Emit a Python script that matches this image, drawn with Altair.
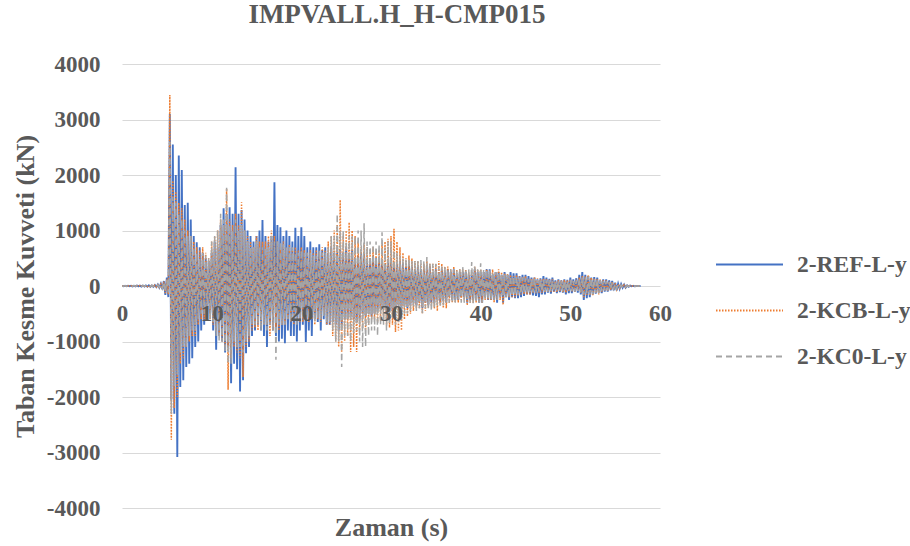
import altair as alt
import pandas as pd

# Base shear time histories (kN), six samples per second of record.
SAMPLES_PER_S = 6

series_names = ["2-REF-L-y", "2-KCB-L-y", "2-KC0-L-y"]
series_colors = ["#4472C4", "#ED7D31", "#A5A5A5"]
series_dashes = [[1, 0], [1.5, 1.5], [6, 4]]
series_widths = [1.9, 1.5, 1.5]

x_ticks = [0, 10, 20, 30, 40, 50, 60]
y_ticks = [-4000, -3000, -2000, -1000, 0, 1000, 2000, 3000, 4000]

# one row per second of record
ref_rows = [
    [0, -5, 4, -6, 5, -4], [6, -8, 5, -7, 8, -6], [7, -10, 8, -9, 10, -12],
    [12, -15, 10, -14, 18, -20], [25, -30, 40, -60, 90, -160],
    [150, -200, 3100, -2050, 2550, -2300], [2000, -3080, 2350, -1820, 2090, -1700],
    [1460, -1460, 1500, -1400, 1200, -1300], [900, -1100, 790, -1000, 700, -800],
    [600, -700, 500, -600, 450, -500], [600, -800, 800, -1150, 700, -900],
    [1100, -1000, 1400, -1200, 1300, -1100], [1420, -1750, 1300, -1400, 2140, -1500],
    [1300, -1900, 1370, -1700, 1200, -1210], [1000, -1100, 900, -900, 800, -800],
    [900, -700, 1000, -800, 1190, -900], [900, -1100, 800, -700, 900, -800],
    [1870, -900, 1100, -1000, 1060, -950], [900, -1030, 1000, -800, 900, -900],
    [800, -900, 1050, -1000, 900, -800], [1060, -700, 900, -1010, 700, -800],
    [800, -900, 700, -600, 700, -650], [750, -800, 650, -600, 700, -700],
    [600, -700, 700, -650, 600, -700], [600, -800, 650, -700, 600, -600],
    [700, -600, 600, -550, 650, -600], [500, -650, 550, -600, 600, -500],
    [600, -550, 450, -500, 500, -550], [550, -500, 500, -450, 450, -400],
    [450, -400, 400, -500, 450, -450], [500, -450, 350, -400, 400, -350],
    [450, -400, 400, -350, 350, -400], [400, -350, 350, -300, 300, -350],
    [350, -300, 300, -400, 300, -300], [300, -350, 350, -300, 250, -300],
    [300, -250, 250, -300, 300, -250], [250, -300, 300, -200, 250, -250],
    [300, -250, 200, -250, 250, -200], [250, -200, 250, -300, 200, -250],
    [200, -250, 300, -250, 250, -300], [250, -300, 250, -200, 300, -250],
    [300, -250, 200, -250, 250, -300], [250, -200, 200, -300, 250, -200],
    [200, -250, 250, -200, 230, -220], [230, -220, 180, -200, 200, -180],
    [200, -150, 180, -150, 150, -170], [150, -180, 120, -200, 140, -150],
    [180, -150, 150, -120, 130, -140], [150, -100, 100, -130, 120, -110],
    [100, -120, 120, -150, 110, -130], [150, -130, 120, -100, 140, -120],
    [200, -150, 250, -250, 200, -220], [180, -200, 150, -150, 160, -140],
    [150, -120, 100, -130, 120, -100], [120, -100, 100, -80, 90, -80],
    [60, -80, 40, -50, 35, -30], [25, -30, 10, -15, 8, -6], [3, -5, 0, 0, 0, 0],
]

kcb_rows = [
    [0, -4, 3, -5, 4, -3], [5, -6, 4, -6, 6, -5], [6, -8, 7, -8, 9, -10],
    [10, -12, 9, -13, 15, -18], [20, -25, 35, -50, 80, -130],
    [120, -150, 3440, -2770, 1900, -2200], [1700, -2000, 1500, -1400, 1400, -1300],
    [1200, -1100, 1000, -1000, 900, -900], [800, -900, 700, -700, 650, -600],
    [700, -600, 600, -500, 500, -600], [800, -700, 900, -800, 1000, -900],
    [1200, -1000, 1100, -1100, 1750, -1870], [1200, -1300, 1100, -1100, 1300, -1200],
    [1100, -1300, 1510, -1640, 1000, -1100], [900, -1000, 800, -800, 700, -750],
    [900, -800, 800, -700, 800, -700], [800, -700, 900, -900, 1000, -800],
    [900, -800, 800, -800, 700, -700], [800, -700, 700, -600, 750, -650],
    [650, -700, 700, -600, 650, -650], [700, -650, 650, -600, 600, -650],
    [650, -600, 600, -700, 650, -600], [600, -650, 700, -500, 650, -700],
    [800, -700, 900, -900, 1000, -1000], [1100, -1100, 1550, -1200, 900, -1000],
    [1000, -900, 1150, -1190, 1000, -1100], [900, -1190, 800, -800, 700, -750],
    [750, -800, 700, -700, 650, -600], [700, -600, 600, -650, 650, -600],
    [750, -600, 800, -700, 850, -750], [900, -700, 1030, -830, 800, -800],
    [700, -800, 600, -600, 500, -550], [550, -500, 500, -450, 450, -400],
    [450, -400, 400, -500, 400, -450], [450, -400, 400, -350, 400, -400],
    [400, -450, 450, -350, 400, -400], [350, -400, 350, -300, 300, -300],
    [350, -300, 300, -300, 300, -250], [300, -250, 300, -350, 250, -300],
    [250, -300, 350, -300, 300, -300], [300, -300, 250, -250, 300, -250],
    [250, -250, 300, -300, 250, -250], [300, -250, 250, -340, 220, -200],
    [220, -200, 200, -200, 180, -200], [200, -180, 170, -150, 160, -150],
    [180, -150, 130, -150, 140, -130], [150, -130, 140, -120, 130, -120],
    [130, -120, 120, -100, 110, -100], [120, -100, 90, -110, 100, -90],
    [100, -110, 110, -120, 100, -100], [120, -100, 100, -100, 110, -90],
    [150, -120, 180, -200, 170, -160], [200, -170, 150, -180, 140, -130],
    [120, -150, 120, -100, 100, -90], [100, -90, 80, -70, 70, -60],
    [50, -60, 30, -40, 25, -20], [20, -25, 8, -12, 6, -4], [2, -4, 0, 0, 0, 0],
]

kc0_rows = [
    [0, -3, 4, -4, 3, -2], [4, -5, 6, -5, 5, -4], [5, -7, 6, -8, 8, -9],
    [9, -10, 12, -12, 14, -16], [18, -22, 30, -45, 70, -110],
    [100, -120, 2600, -2300, 1600, -1800], [1500, -1600, 1300, -1200, 1200, -1100],
    [1000, -1100, 900, -900, 900, -800], [700, -800, 600, -600, 500, -500],
    [600, -500, 550, -400, 500, -600], [800, -650, 900, -900, 1000, -1000],
    [1300, -1000, 1200, -1200, 1770, -1400], [1100, -1400, 1000, -1000, 1200, -1100],
    [1000, -1100, 1100, -1200, 1000, -1000], [800, -900, 700, -700, 700, -700],
    [800, -700, 700, -800, 700, -700], [700, -800, 700, -700, 900, -800],
    [800, -1330, 800, -700, 800, -700], [750, -700, 700, -600, 700, -650],
    [700, -650, 600, -700, 600, -600], [650, -600, 600, -550, 600, -600],
    [600, -550, 550, -650, 550, -600], [650, -600, 600, -550, 600, -650],
    [700, -650, 900, -800, 900, -1000], [1300, -1000, 1000, -1460, 1000, -900],
    [800, -900, 900, -1000, 900, -850], [900, -800, 1000, -1000, 1000, -1100],
    [1130, -1100, 800, -900, 800, -800], [750, -800, 800, -900, 750, -700],
    [970, -700, 700, -800, 800, -700], [800, -600, 650, -700, 600, -650],
    [550, -600, 500, -500, 500, -500], [500, -450, 450, -400, 450, -450],
    [450, -400, 470, -490, 450, -400], [520, -400, 400, -450, 400, -400],
    [400, -350, 350, -350, 350, -350], [350, -300, 300, -300, 300, -300],
    [300, -300, 300, -250, 300, -300], [350, -300, 300, -250, 300, -300],
    [430, -310, 350, -300, 300, -300], [410, -300, 300, -250, 300, -250],
    [300, -250, 250, -250, 250, -250], [250, -200, 200, -200, 200, -200],
    [200, -200, 180, -180, 180, -170], [170, -150, 150, -140, 150, -130],
    [140, -130, 120, -120, 120, -110], [130, -120, 110, -100, 110, -100],
    [110, -100, 100, -100, 100, -90], [100, -90, 80, -90, 90, -80],
    [90, -100, 100, -100, 90, -90], [110, -90, 90, -100, 100, -90],
    [140, -110, 160, -150, 150, -140], [170, -150, 140, -150, 130, -120],
    [120, -130, 100, -90, 90, -80], [90, -80, 70, -60, 60, -50],
    [40, -50, 25, -30, 20, -15], [15, -20, 6, -10, 5, -3], [2, -3, 0, 0, 0, 0],
]


def to_frame(name, rows):
    values = [v for row in rows for v in row]
    return pd.DataFrame({
        "t": [i / SAMPLES_PER_S for i in range(len(values))],
        "value": values,
        "series": name,
    })


df = pd.concat(
    [to_frame(n, r) for n, r in zip(series_names, [ref_rows, kcb_rows, kc0_rows])],
    ignore_index=True,
)

FONT = "Liberation Serif"
TEXT = "#595959"

# time axis sits on the zero line, its labels drawn over the traces
x_axis = alt.Axis(
    values=x_ticks, title="Zaman (s)", grid=False, domain=False, ticks=False,
    tickSize=0, offset=-222, labelPadding=16, labelFont=FONT, labelFontSize=23,
    labelFontWeight="bold", labelColor=TEXT, labelFlush=False, zindex=1,
    titleFont=FONT, titleFontSize=26, titleFontWeight="bold", titleColor=TEXT,
    titleY=241, titleBaseline="middle",
)
y_axis = alt.Axis(
    values=y_ticks, labelExpr="'' + datum.value", title="Taban Kesme Kuvveti (kN)",
    grid=True, gridColor="#D9D9D9", gridWidth=1.2, domain=False, ticks=False,
    tickSize=0, labelPadding=22, labelFont=FONT, labelFontSize=23,
    labelFontWeight="bold", labelColor=TEXT,
    titleFont=FONT, titleFontSize=26, titleFontWeight="bold", titleColor=TEXT,
    titleX=-97, titleY=222, titleBaseline="middle",
)
legend = alt.Legend(
    title=None, orient="none", legendX=593, legendY=166, symbolType="stroke",
    symbolSize=4489, symbolStrokeWidth=2, labelFont=FONT, labelFontSize=23.5,
    labelFontWeight="bold", labelColor=TEXT, labelOffset=13, rowPadding=-28,
    padding=0,
)

color_scale = alt.Scale(domain=series_names, range=series_colors)
dash_scale = alt.Scale(domain=series_names, range=series_dashes)


def series_layer(name, width):
    return (
        alt.Chart(df)
        .transform_filter(alt.datum.series == name)
        .mark_line(strokeWidth=width, clip=True)
        .encode(
            x=alt.X("t:Q", scale=alt.Scale(domain=[0, 60], nice=False), axis=x_axis),
            y=alt.Y("value:Q", scale=alt.Scale(domain=[-4000, 4000], nice=False), axis=y_axis),
            color=alt.Color("series:N", scale=color_scale, legend=legend),
            strokeDash=alt.StrokeDash("series:N", scale=dash_scale, legend=legend),
        )
    )


chart = (
    alt.layer(*[series_layer(n, w) for n, w in zip(series_names, series_widths)])
    .properties(
        width=538,
        height=444,
        title=alt.TitleParams(
            "IMPVALL.H_H-CMP015", font=FONT, fontSize=27, fontWeight="bold",
            color=TEXT, anchor="middle", offset=24, dx=6,
        ),
        autosize=alt.AutoSizeParams(type="none"),
        padding={"left": 122, "top": 64, "right": 250, "bottom": 38},
        background="white",
    )
    .configure_view(stroke=None)
)

chart.save("out.html", embed_options={"renderer": "svg", "actions": False})
